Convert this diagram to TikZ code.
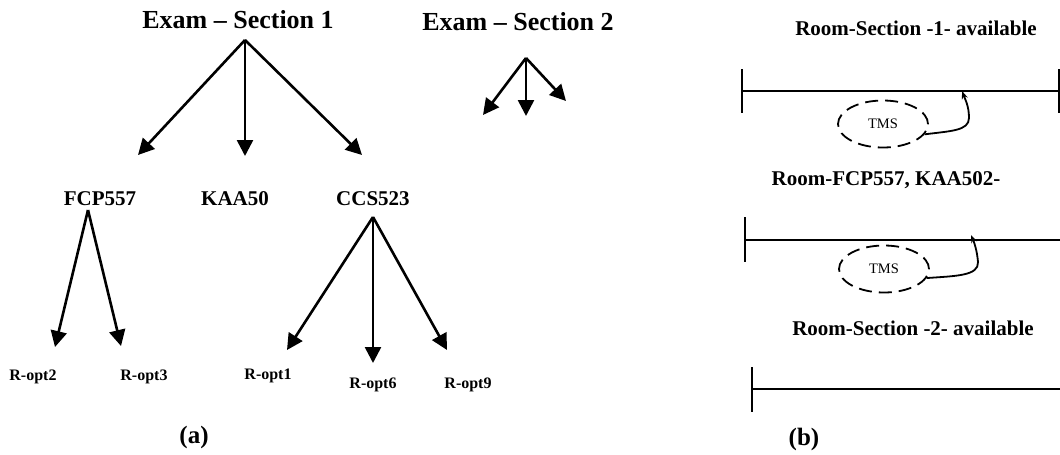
\documentclass[tikz,border=0pt]{standalone}
\usepackage{fontspec}
\setmainfont{Liberation Serif}
\usetikzlibrary{arrows.meta, shapes.geometric}

\begin{document}
\begin{tikzpicture}[
  x=1pt, y=-1pt,
  arr/.style={line width=2.6pt, -{Triangle[length=16pt,width=16pt]}},
  big/.style={font=\fontsize{26}{30}\selectfont\bfseries},
  mid/.style={font=\fontsize{21}{25}\selectfont\bfseries},
  opt/.style={font=\fontsize{16}{19}\selectfont\bfseries},
  subcap/.style={font=\fontsize{25}{29}\selectfont\bfseries},
  tms/.style={ellipse, draw, dash pattern=on 13pt off 7pt, line width=1.8pt,
    minimum width=90pt, minimum height=47pt, inner sep=0pt,
    font=\fontsize{14.5}{17}\selectfont},
  bar/.style={line width=2.2pt},
  back/.style={line width=1.8pt, -{Stealth[length=8pt,width=6pt]}}
]
  \useasboundingbox (0,0) rectangle (1060,455);
  % (a) exam tree
  \node[big] (sec1) at (238,20) {Exam -- Section 1};
  \node[big] (sec2) at (518,22) {Exam -- Section 2};
  \node[mid] (fcp) at (100,199) {FCP557};
  \node[mid] (kaa) at (235,199) {KAA50};
  \node[mid] (ccs) at (373,199) {CCS523};
  \node[opt] (r2) at (33,377) {R-opt2};
  \node[opt] (r3) at (144,377) {R-opt3};
  \node[opt] (r1) at (268,376) {R-opt1};
  \node[opt] (r6) at (373,385) {R-opt6};
  \node[opt] (r9) at (468,385) {R-opt9};
  \node[subcap] (capa) at (194,437) {(a)};
  % arrow roots and tips
  \coordinate (s1) at (245,40);
  \coordinate (s1a) at (138,155);
  \coordinate (s1b) at (245,156);
  \coordinate (s1c) at (362,155);
  \coordinate (s2) at (526,58);
  \coordinate (s2a) at (483,115);
  \coordinate (s2b) at (526,116);
  \coordinate (s2c) at (566,101);
  \coordinate (f0) at (88,210);
  \coordinate (fa) at (55,347);
  \coordinate (fb) at (121,346);
  \coordinate (c0) at (373,217);
  \coordinate (ca) at (287,350);
  \coordinate (cb) at (373,363);
  \coordinate (cc) at (447,350);
  \foreach \t in {s1a,s1b,s1c} \draw[arr] (s1) -- (\t);
  \foreach \t in {s2a,s2b,s2c} \draw[arr] (s2) -- (\t);
  \foreach \t in {fa,fb} \draw[arr] (f0) -- (\t);
  \foreach \t in {ca,cb,cc} \draw[arr] (c0) -- (\t);
  % (b) room time lines
  \node[mid] (room1) at (916,28) {Room-Section -1- available};
  \node[mid] (room2) at (886,180) {Room-FCP557, KAA502-};
  \node[mid] (room3) at (913,328) {Room-Section -2- available};
  \node[subcap] (capb) at (804,439) {(b)};
  \draw[bar] (742,91) -- (1059,91);
  \draw[bar] (742,69) -- (742,113);
  \draw[bar] (1059,69) -- (1059,113);
  \draw[bar] (745,240) -- (1060,240);
  \draw[bar] (745,217) -- (745,262);
  \draw[bar] (752,389) -- (1060,389);
  \draw[bar] (752,367) -- (752,412);
  \node[tms] (tms1) at (883,124) {TMS};
  \node[tms] (tms2) at (884,269) {TMS};
  \coordinate (hit1) at (962,91);
  \coordinate (hit2) at (971,235);
  \draw[back] (tms1.-14) .. controls (950,131) and (969,131) .. (969,118)
    .. controls (969,106) and (965,99) .. (hit1);
  \draw[back] (tms2.-12) .. controls (955,276) and (979,276) .. (978,262)
    .. controls (977,250) and (974,242) .. (hit2);
\end{tikzpicture}
\end{document}
